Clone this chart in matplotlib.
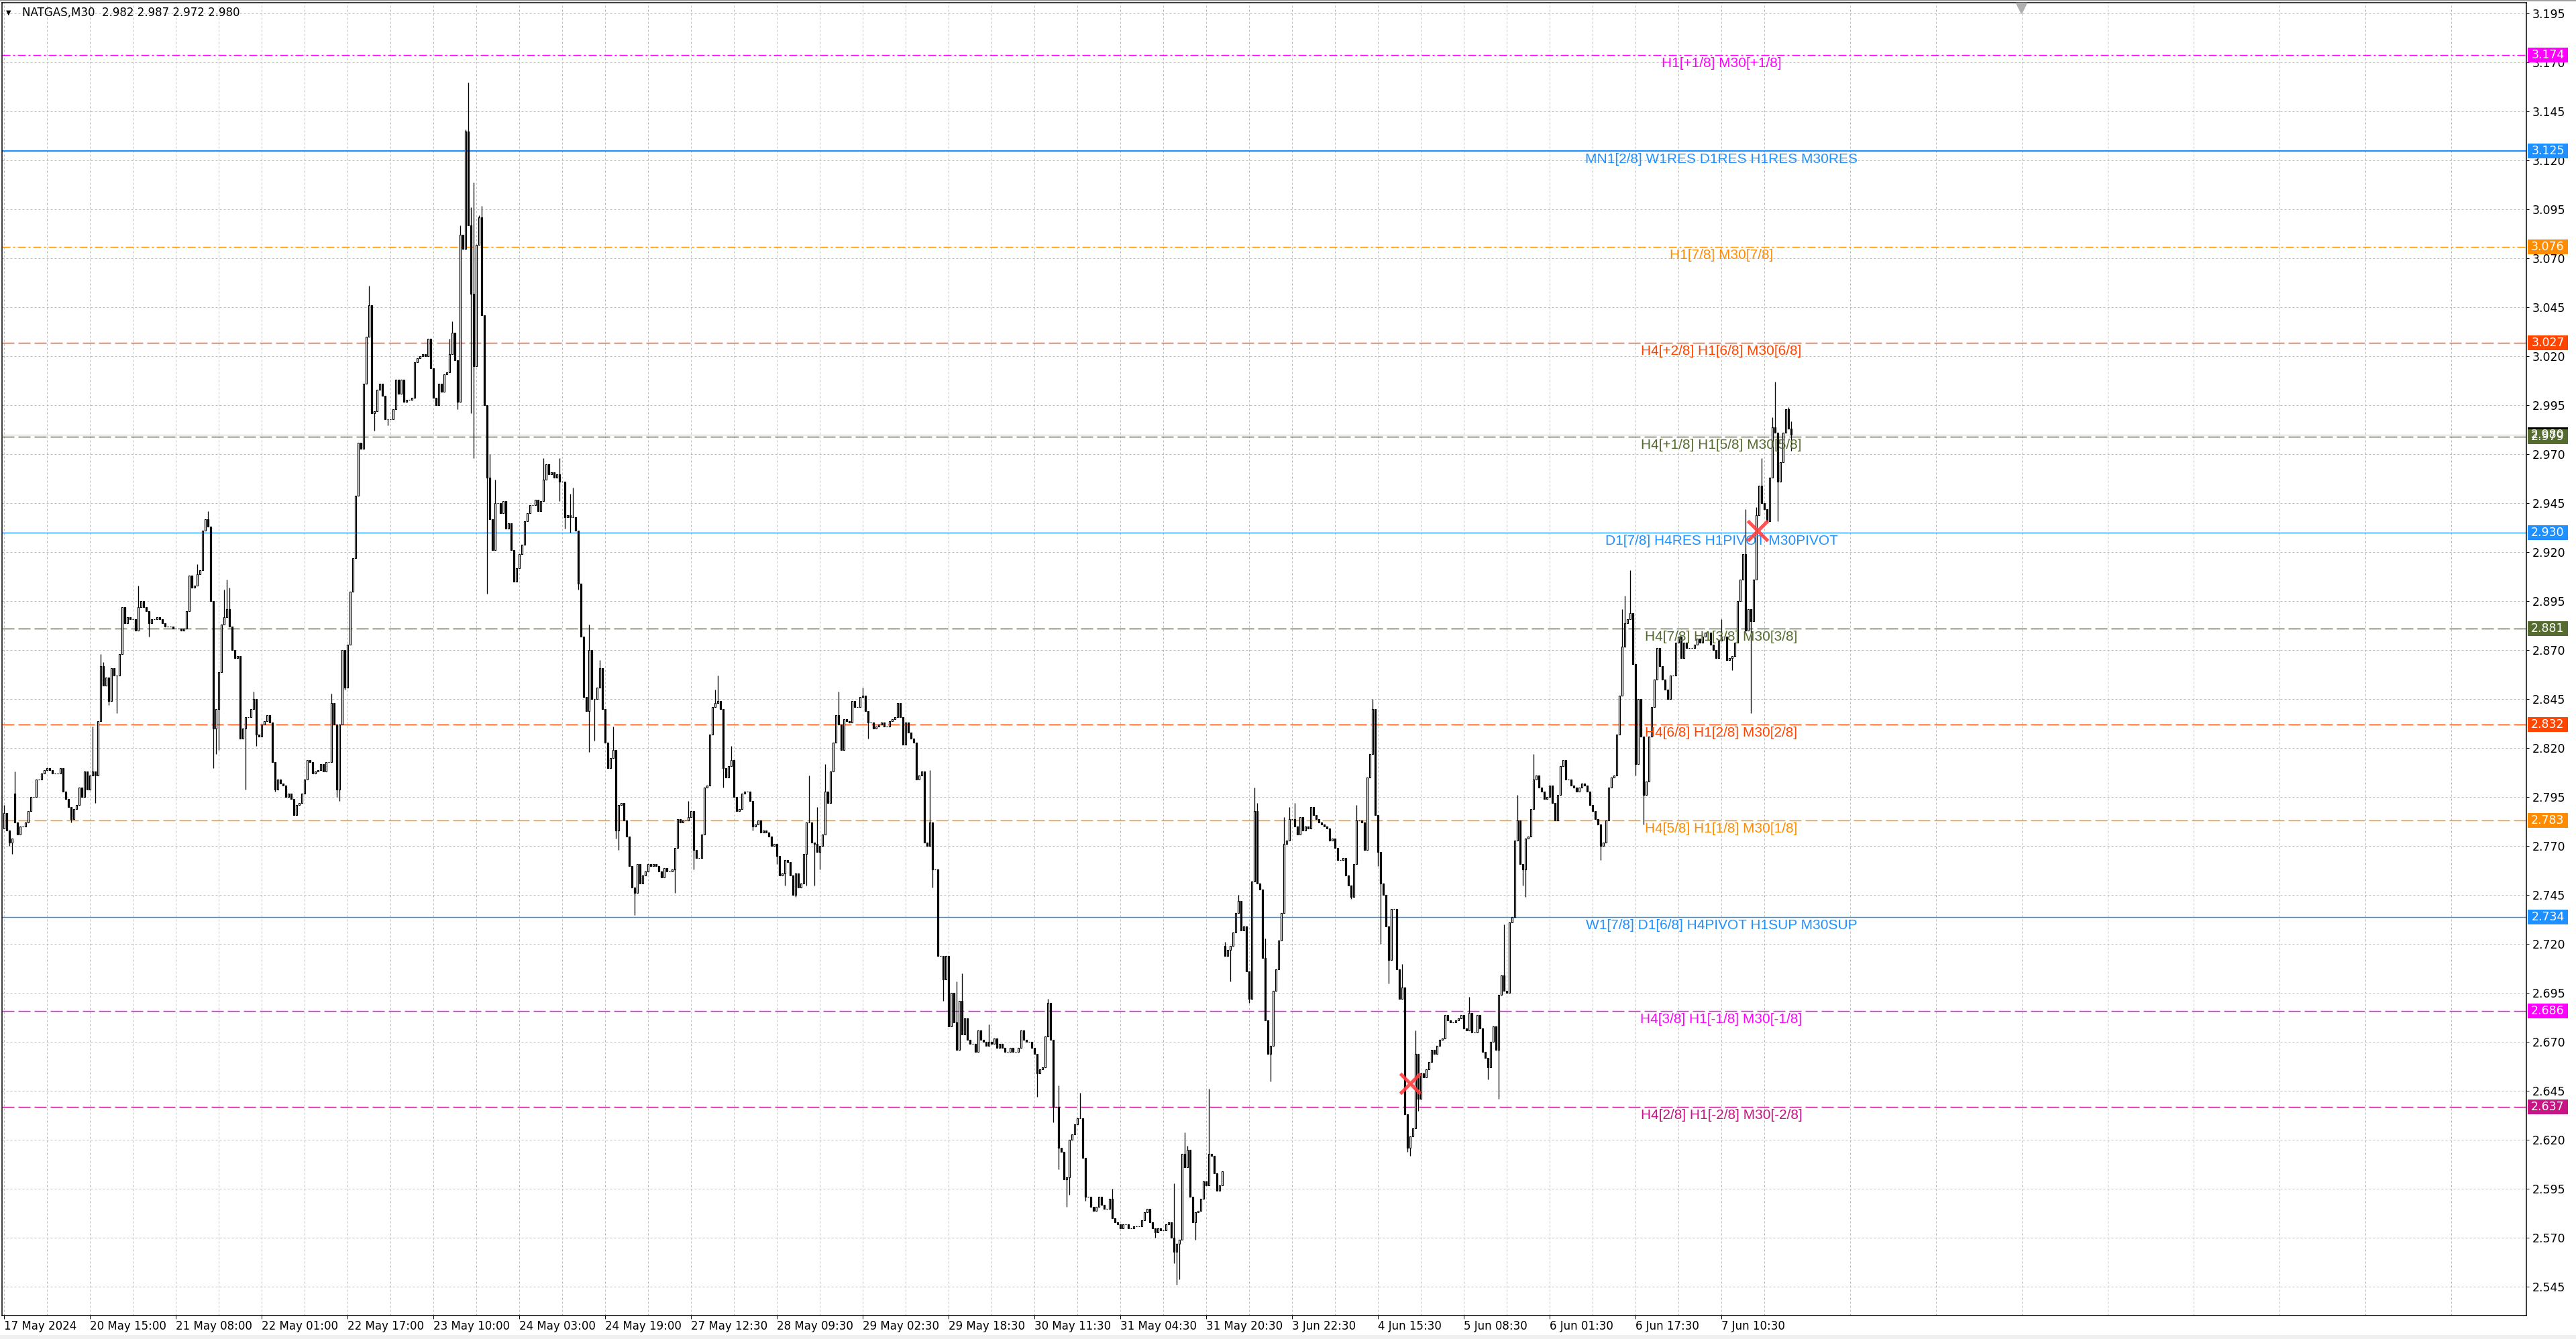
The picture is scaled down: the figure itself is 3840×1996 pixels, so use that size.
import numpy as np
import matplotlib
matplotlib.use('Agg')
import matplotlib.pyplot as plt
from matplotlib.patches import Rectangle

# --- данные, прочитанные с графика NATGAS M30 ---
closes = [
    2.787, 2.778, 2.772, 2.774, 2.782, 2.776, 2.780, 2.780, 2.782, 2.788, 2.795, 2.795, 2.804, 2.804, 2.807, 2.809,
    2.810, 2.809, 2.807, 2.807, 2.807, 2.810, 2.798, 2.794, 2.790, 2.784, 2.789, 2.791, 2.800, 2.795, 2.808, 2.799,
    2.806, 2.808, 2.806, 2.834, 2.862, 2.852, 2.856, 2.844, 2.861, 2.857, 2.857, 2.868, 2.892, 2.884, 2.887, 2.886,
    2.886, 2.880, 2.892, 2.895, 2.892, 2.890, 2.884, 2.886, 2.886, 2.887, 2.886, 2.884, 2.882, 2.882, 2.882, 2.881,
    2.881, 2.881, 2.880, 2.881, 2.890, 2.908, 2.902, 2.903, 2.909, 2.911, 2.931, 2.937, 2.933, 2.895, 2.830, 2.840,
    2.859, 2.883, 2.887, 2.891, 2.882, 2.870, 2.866, 2.867, 2.825, 2.830, 2.836, 2.836, 2.840, 2.845, 2.827, 2.826,
    2.832, 2.834, 2.837, 2.833, 2.813, 2.799, 2.804, 2.802, 2.801, 2.795, 2.797, 2.794, 2.786, 2.791, 2.792, 2.797,
    2.804, 2.814, 2.813, 2.807, 2.808, 2.809, 2.812, 2.808, 2.813, 2.813, 2.843, 2.832, 2.799, 2.832, 2.870, 2.851,
    2.873, 2.900, 2.917, 2.949, 2.976, 2.973, 3.006, 3.030, 3.046, 2.991, 2.992, 3.003, 3.006, 3.000, 2.988, 2.988,
    2.988, 2.993, 3.008, 3.001, 3.008, 2.997, 2.998, 2.998, 2.999, 3.017, 3.019, 3.020, 3.021, 3.020, 3.029, 3.014,
    2.999, 2.995, 3.006, 3.002, 3.011, 3.012, 3.021, 3.032, 3.018, 2.997, 3.082, 3.075, 3.135, 3.087, 3.052, 3.015,
    3.077, 3.091, 3.041, 2.995, 2.958, 2.937, 2.921, 2.945, 2.945, 2.940, 2.946, 2.932, 2.935, 2.921, 2.905, 2.912,
    2.919, 2.924, 2.936, 2.940, 2.944, 2.944, 2.947, 2.941, 2.946, 2.957, 2.965, 2.960, 2.961, 2.958, 2.960, 2.956,
    2.956, 2.938, 2.939, 2.938, 2.938, 2.931, 2.904, 2.877, 2.846, 2.839, 2.870, 2.845, 2.845, 2.851, 2.861, 2.840,
    2.823, 2.810, 2.815, 2.819, 2.778, 2.791, 2.792, 2.783, 2.775, 2.760, 2.749, 2.746, 2.761, 2.751, 2.755, 2.757,
    2.761, 2.760, 2.761, 2.760, 2.757, 2.754, 2.759, 2.757, 2.757, 2.758, 2.769, 2.784, 2.782, 2.783, 2.783, 2.785,
    2.788, 2.768, 2.764, 2.764, 2.776, 2.800, 2.801, 2.827, 2.841, 2.843, 2.844, 2.840, 2.810, 2.805, 2.811, 2.814,
    2.795, 2.788, 2.789, 2.797, 2.798, 2.798, 2.793, 2.780, 2.781, 2.783, 2.777, 2.778, 2.777, 2.775, 2.770, 2.771,
    2.765, 2.755, 2.756, 2.763, 2.762, 2.755, 2.745, 2.756, 2.749, 2.751, 2.766, 2.782, 2.782, 2.772, 2.771, 2.767,
    2.770, 2.776, 2.798, 2.792, 2.808, 2.823, 2.837, 2.832, 2.819, 2.835, 2.834, 2.833, 2.844, 2.841, 2.841, 2.846,
    2.847, 2.839, 2.833, 2.833, 2.830, 2.831, 2.832, 2.833, 2.831, 2.831, 2.834, 2.835, 2.836, 2.843, 2.836, 2.822,
    2.833, 2.828, 2.825, 2.823, 2.804, 2.806, 2.808, 2.772, 2.770, 2.782, 2.758, 2.758, 2.714, 2.714, 2.702, 2.714,
    2.678, 2.695, 2.680, 2.666, 2.691, 2.674, 2.682, 2.671, 2.669, 2.669, 2.665, 2.676, 2.671, 2.670, 2.668, 2.670,
    2.669, 2.672, 2.667, 2.669, 2.667, 2.665, 2.665, 2.667, 2.665, 2.665, 2.667, 2.676, 2.671, 2.670, 2.670, 2.667,
    2.664, 2.654, 2.656, 2.657, 2.673, 2.690, 2.671, 2.637, 2.637, 2.616, 2.614, 2.600, 2.601, 2.620, 2.623, 2.628,
    2.631, 2.631, 2.611, 2.591, 2.591, 2.586, 2.584, 2.586, 2.591, 2.587, 2.585, 2.585, 2.590, 2.580, 2.578, 2.577,
    2.575, 2.577, 2.577, 2.575, 2.575, 2.576, 2.576, 2.576, 2.579, 2.583, 2.585, 2.578, 2.575, 2.573, 2.575, 2.574,
    2.574, 2.577, 2.578, 2.570, 2.563, 2.567, 2.569, 2.613, 2.606, 2.615, 2.591, 2.578, 2.583, 2.584, 2.590, 2.599,
    2.597, 2.613, 2.612, 2.603, 2.594, 2.597, 2.604, 2.714, 2.717, 2.719, 2.726, 2.736, 2.742, 2.727, 2.729, 2.706,
    2.692, 2.752, 2.788, 2.751, 2.748, 2.713, 2.681, 2.664, 2.668, 2.696, 2.707, 2.722, 2.736, 2.771, 2.773, 2.784,
    2.784, 2.780, 2.776, 2.785, 2.778, 2.780, 2.779, 2.790, 2.786, 2.784, 2.782, 2.781, 2.780, 2.779, 2.773, 2.774,
    2.769, 2.763, 2.763, 2.764, 2.755, 2.750, 2.744, 2.761, 2.783, 2.783, 2.782, 2.768, 2.805, 2.817, 2.840, 2.786,
    2.767, 2.751, 2.745, 2.729, 2.712, 2.738, 2.738, 2.707, 2.692, 2.698, 2.633, 2.616, 2.622, 2.626, 2.664, 2.641,
    2.654, 2.652, 2.656, 2.660, 2.666, 2.664, 2.668, 2.671, 2.672, 2.684, 2.681, 2.680, 2.680, 2.681, 2.682, 2.684,
    2.677, 2.676, 2.685, 2.675, 2.675, 2.684, 2.677, 2.665, 2.662, 2.657, 2.670, 2.678, 2.666, 2.694, 2.704, 2.696,
    2.695, 2.731, 2.734, 2.773, 2.783, 2.761, 2.758, 2.774, 2.775, 2.789, 2.804, 2.806, 2.800, 2.798, 2.794, 2.795,
    2.801, 2.792, 2.783, 2.796, 2.811, 2.814, 2.804, 2.804, 2.801, 2.800, 2.798, 2.800, 2.802, 2.801, 2.798, 2.791,
    2.788, 2.784, 2.781, 2.770, 2.772, 2.783, 2.800, 2.805, 2.806, 2.827, 2.847, 2.872, 2.884, 2.886, 2.889, 2.863,
    2.812, 2.845, 2.826, 2.796, 2.803, 2.826, 2.841, 2.855, 2.871, 2.862, 2.855, 2.850, 2.845, 2.857, 2.857, 2.874,
    2.877, 2.866, 2.874, 2.871, 2.871, 2.871, 2.873, 2.876, 2.874, 2.877, 2.879, 2.879, 2.873, 2.870, 2.866, 2.875,
    2.877, 2.877, 2.865, 2.866, 2.867, 2.874, 2.895, 2.906, 2.919, 2.880, 2.891, 2.885, 2.906, 2.939, 2.954, 2.945,
    2.942, 2.936, 2.958, 2.984, 2.981, 2.956, 2.966, 2.981, 2.993, 2.983, 2.980,
]

# открытия, отличающиеся от предыдущего закрытия (гэпы)
open_gaps = {0: 2.779, 4: 2.797, 455: 2.719}

# заметные тени свечей
wick_highs = {
    0: 2.791, 4: 2.808, 33: 2.831, 36: 2.868, 37: 2.864, 50: 2.903, 72: 2.914, 76: 2.941,
    82: 2.901, 83: 2.906, 84: 2.902, 93: 2.849, 122: 2.848, 136: 3.056, 166: 3.029, 167: 3.038,
    170: 3.087, 172: 3.136, 173: 3.160, 174: 3.096, 175: 3.109, 177: 3.092, 178: 3.097, 181: 2.970,
    183: 2.957, 201: 2.968, 207: 2.968, 211: 2.950, 212: 2.953, 218: 2.883, 222: 2.865, 227: 2.831,
    255: 2.793, 265: 2.850, 266: 2.857, 271: 2.821, 300: 2.806, 303: 2.790, 306: 2.812, 311: 2.849,
    320: 2.851, 345: 2.809, 355: 2.701, 357: 2.705, 367: 2.679, 389: 2.692, 393: 2.648, 401: 2.644,
    413: 2.595, 436: 2.598, 440: 2.624, 441: 2.617, 449: 2.646, 455: 2.721, 460: 2.745, 466: 2.800,
    467: 2.792, 470: 2.723, 477: 2.785, 479: 2.790, 481: 2.792, 504: 2.791, 510: 2.845, 521: 2.710,
    526: 2.676, 546: 2.693, 559: 2.730, 564: 2.796, 570: 2.817, 603: 2.891, 604: 2.898, 606: 2.911,
    640: 2.886, 649: 2.942, 653: 2.943, 655: 2.968, 659: 2.989, 660: 3.007, 665: 2.994, 666: 2.987,
}
wick_lows = {
    2: 2.770, 3: 2.766, 25: 2.782, 34: 2.792, 39: 2.842, 42: 2.838, 54: 2.877, 78: 2.810,
    79: 2.817, 80: 2.819, 90: 2.799, 94: 2.821, 101: 2.798, 124: 2.795, 125: 2.793, 127: 2.850,
    138: 2.982, 143: 2.985, 169: 2.993, 174: 2.991, 175: 2.968, 180: 2.899, 207: 2.946, 209: 2.932,
    211: 2.930, 214: 2.901, 218: 2.818, 220: 2.824, 228: 2.774, 229: 2.768, 235: 2.735, 250: 2.746,
    257: 2.758, 268: 2.800, 279: 2.778, 288: 2.761, 291: 2.750, 295: 2.744, 299: 2.750, 302: 2.750,
    304: 2.758, 322: 2.825, 346: 2.749, 350: 2.691, 385: 2.642, 391: 2.629, 393: 2.605, 396: 2.586,
    397: 2.592, 403: 2.589, 429: 2.570, 436: 2.557, 437: 2.546, 438: 2.549, 444: 2.569, 457: 2.701,
    464: 2.690, 472: 2.650, 502: 2.743, 512: 2.760, 513: 2.720, 516: 2.700, 523: 2.614, 524: 2.612,
    527: 2.635, 553: 2.651, 557: 2.641, 566: 2.750, 567: 2.744, 595: 2.763, 608: 2.806, 611: 2.781,
    644: 2.860, 651: 2.838, 661: 2.936, 666: 2.972,
}

# уровни Мюррея и их подписи
level_prices = [3.174, 3.125, 3.076, 3.027, 2.979, 2.930, 2.881, 2.832, 2.783, 2.734, 2.686, 2.637]
level_labels = [
    'H1[+1/8] M30[+1/8]',
    'MN1[2/8] W1RES D1RES H1RES M30RES',
    'H1[7/8] M30[7/8]',
    'H4[+2/8] H1[6/8] M30[6/8]',
    'H4[+1/8] H1[5/8] M30[5/8]',
    'D1[7/8] H4RES H1PIVOT M30PIVOT',
    'H4[7/8] H1[3/8] M30[3/8]',
    'H4[6/8] H1[2/8] M30[2/8]',
    'H4[5/8] H1[1/8] M30[1/8]',
    'W1[7/8] D1[6/8] H4PIVOT H1SUP M30SUP',
    'H4[3/8] H1[-1/8] M30[-1/8]',
    'H4[2/8] H1[-2/8] M30[-2/8]',
]
level_colors = ['#FF00FF', '#1E90FF', '#FF8C00', '#FF4500', '#556B2F', '#1E90FF',
                '#556B2F', '#FF4500', '#FF8C00', '#1E90FF', '#FF00FF', '#C71585']
level_styles = ['dashdot', 'solid', 'dashdot', 'dashed', 'dashed', 'solid',
                'dashed', 'dashed', 'dashed', 'solid', 'dashed', 'dashed']

bid_price = 2.980
header = 'NATGAS,M30  2.982 2.987 2.972 2.980'

time_labels = ['17 May 2024', '20 May 15:00', '21 May 08:00', '22 May 01:00', '22 May 17:00',
               '23 May 10:00', '24 May 03:00', '24 May 19:00', '27 May 12:30', '28 May 09:30',
               '29 May 02:30', '29 May 18:30', '30 May 11:30', '31 May 04:30', '31 May 20:30',
               '3 Jun 22:30', '4 Jun 15:30', '5 Jun 08:30', '6 Jun 01:30', '6 Jun 17:30',
               '7 Jun 10:30']

cross_bars = [524, 653.5]
cross_prices = [2.649, 2.931]

# --- размеры в пикселях ---
W, H, DPI = 3840, 1996, 100
PX = 72 / DPI
AX_L, AX_R, AX_T, AX_B = 3, 3766, 4, 1961
AX_W = AX_R - AX_L
PPU = 2920  # пикселей на единицу цены

plt.rcParams['font.family'] = ['DejaVu Sans']
plt.rcParams['lines.scale_dashes'] = False

fig = plt.figure(figsize=(W / DPI, H / DPI), dpi=DPI, facecolor='white')
ax = fig.add_axes([AX_L / W, 1 - AX_B / H, AX_W / W, (AX_B - AX_T) / H])
ax.set_facecolor('white')

ax.set_xlim((AX_L - 6) / 4, (AX_R - 6) / 4)
ax.set_ylim(3.195 - (AX_B - 20.4) / PPU, 3.195 - (AX_T - 20.4) / PPU)

# свечи
c = np.array(closes)
n = len(c)
idx = np.arange(n)
o = np.r_[c[0], c[:-1]]
for k, v in open_gaps.items():
    o[k] = v
hi = np.maximum(o, c)
lo = np.minimum(o, c)
for k, v in wick_highs.items():
    hi[k] = max(hi[k], v)
for k, v in wick_lows.items():
    lo[k] = min(lo[k], v)

ax.vlines(idx, lo, hi, color='black', linewidth=1.3 * PX, zorder=3, snap=True)
up = c >= o
bottom = np.minimum(o, c)
height = np.abs(c - o)
ax.bar(idx[up], height[up], bottom=bottom[up], width=0.6, facecolor='white',
       edgecolor='black', linewidth=1.2 * PX, zorder=4)
ax.bar(idx[~up], height[~up], bottom=bottom[~up], width=0.6, facecolor='black',
       edgecolor='black', linewidth=1.2 * PX, zorder=4)

# сетка и оси
yticks = np.round(np.arange(2.545, 3.2, 0.025), 3)
ax.set_yticks(yticks)
ax.set_yticklabels([f'{v:.3f}' for v in yticks])
ax.yaxis.tick_right()
ax.tick_params(axis='y', direction='out', length=4 * PX, width=PX, pad=5 * PX,
               labelsize=12.5, colors='black')

ax.set_xticks(np.arange(len(time_labels)) * 32)
ax.set_xticklabels(time_labels)
ax.set_xticks(np.arange(16, 940, 32), minor=True)
ax.tick_params(axis='x', which='major', direction='out', length=5 * PX, width=PX,
               pad=2 * PX, labelsize=12)
ax.tick_params(axis='x', which='minor', length=0)
for lbl in ax.get_xticklabels():
    lbl.set_ha('left')

grid_dash = (0, (3 * PX, 3 * PX))
ax.set_axisbelow(True)
ax.yaxis.grid(True, which='major', color='#BEBEBE', linestyle=grid_dash, linewidth=PX)
ax.xaxis.grid(True, which='both', color='#BEBEBE', linestyle=grid_dash, linewidth=PX)
for s in ax.spines.values():
    s.set_linewidth(PX * 1.5)
    s.set_color('black')

# уровни
styles = {'solid': '-',
          'dashed': (0, (18 * PX, 6 * PX)),
          'dashdot': (0, (12 * PX, 4 * PX, 3 * PX, 4 * PX))}
ytr = ax.get_yaxis_transform()


def price_box(p, col):
    ax.add_patch(Rectangle((1 + 2 / AX_W, p - 11 / PPU), 60 / AX_W, 22 / PPU,
                           transform=ytr, facecolor=col, edgecolor='none',
                           clip_on=False, zorder=7))
    ax.text(1 + 32 / AX_W, p, f'{p:.3f}', transform=ytr, ha='center', va='center',
            fontsize=12.5, color='white', clip_on=False, zorder=8)


ax.axhline(bid_price, color='#C0C0C0', linewidth=PX, zorder=1)
price_box(bid_price, 'black')
for p, lab, col, st in zip(level_prices, level_labels, level_colors, level_styles):
    lw = 2.2 * PX if p == 3.125 else 1.4 * PX
    ax.axhline(p, color=col, linestyle=styles[st], linewidth=lw, zorder=1)
    ax.annotate(lab, xy=(640, p), xytext=(0, -3 * PX), textcoords='offset points',
                ha='center', va='top', color=col, fontsize=15,
                family=['Liberation Sans', 'DejaVu Sans'], zorder=6)
    price_box(p, col)

# крестики
ax.plot(cross_bars, cross_prices, linestyle='none', marker='x', markersize=30 * PX,
        markeredgewidth=5 * PX, color='#FF4040', alpha=0.9, zorder=8)

# маркер сдвига графика
ax.plot([0.8], [1 - 8 / (AX_B - AX_T)], transform=ax.transAxes, marker='v',
        markersize=16 * PX, color='#B0B0B0', clip_on=False, zorder=9)

# заголовок
fig.text(13 / W, 1 - 19 / H, '▼', fontsize=7, va='center', ha='center', color='black')
fig.text(33 / W, 1 - 19 / H, header, fontsize=12, va='center', ha='left', color='black')

# рамка окна
fig.patches.append(Rectangle((0, 1 - 2 / H), 1, 2 / H, transform=fig.transFigure,
                             facecolor='#A0A0A0', edgecolor='none'))
fig.patches.append(Rectangle((0, 0), 1, 6 / H, transform=fig.transFigure,
                             facecolor='#F0F0F0', edgecolor='none'))

fig.savefig('out.png', dpi=DPI, facecolor='white')
